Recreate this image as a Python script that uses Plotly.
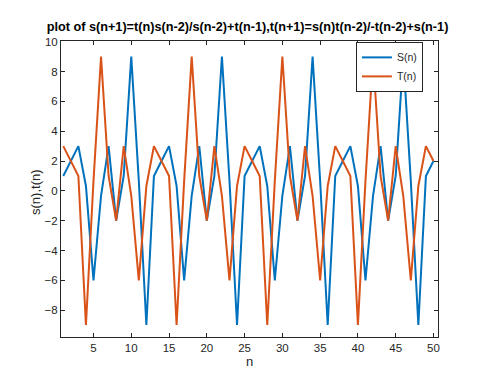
import plotly.graph_objects as go

n = list(range(1, 51))
s_vals = [1, 2, 3, 0.33, -6, -0.33, 3, -2, 1, 9, 0.67, -9,
          1, 2, 3, 0.33, -6, -0.33, 3, -2, 1, 9, 0.67, -9,
          1, 2, 3, 0.33, -6, -0.33, 3, -2, 1, 9, 0.67, -9,
          1, 2, 3, 0.33, -6, -0.33, 3, -2, 1, 9, 0.67, -9,
          1, 2]
t_vals = [3, 2, 1, -9, 0.67, 9, 1, -2, 3, -0.33, -6, 0.33,
          3, 2, 1, -9, 0.67, 9, 1, -2, 3, -0.33, -6, 0.33,
          3, 2, 1, -9, 0.67, 9, 1, -2, 3, -0.33, -6, 0.33,
          3, 2, 1, -9, 0.67, 9, 1, -2, 3, -0.33, -6, 0.33,
          3, 2]
x_ticks = [5, 10, 15, 20, 25, 30, 35, 40, 45, 50]
y_ticks = [-8, -6, -4, -2, 0, 2, 4, 6, 8, 10]

fig = go.Figure()
fig.add_trace(go.Scatter(x=n, y=s_vals, mode='lines', name='S(n)',
                         line=dict(color='#0072BD', width=2)))
fig.add_trace(go.Scatter(x=n, y=t_vals, mode='lines', name='T(n)',
                         line=dict(color='#D95319', width=2)))

axis_style = dict(showgrid=False, zeroline=False, showline=True, linecolor='#262626',
                  linewidth=1, mirror='ticks', ticks='inside', ticklen=4,
                  tickcolor='#262626', tickfont=dict(size=11.5, color='#262626'))

fig.update_layout(
    width=479, height=368,
    margin=dict(l=53, r=49, t=33, b=39),
    paper_bgcolor='white', plot_bgcolor='white',
    font=dict(family='Liberation Sans, Arial, sans-serif', color='#262626'),
    title=dict(text='<b>plot of s(n+1)=t(n)s(n-2)/s(n-2)+t(n-1),t(n+1)=s(n)t(n-2)/-t(n-2)+s(n-1)</b>',
               x=0.5, xref='container', y=1 - 19 / 368, yref='container',
               yanchor='middle', font=dict(size=12.7, color='black')),
    xaxis=dict(range=[0.7, 50.6], tickvals=x_ticks,
               title=dict(text='n', font=dict(size=13), standoff=2), **axis_style),
    yaxis=dict(range=[-9.8, 10.05], tickvals=y_ticks, **axis_style),
    legend=dict(x=0.96, y=0.997, xanchor='right', yanchor='top',
                bgcolor='white', bordercolor='#262626', borderwidth=1,
                font=dict(size=10.5), tracegroupgap=0, itemwidth=30),
    showlegend=True,
)

fig.add_annotation(text='s(n),t(n)', textangle=-90, showarrow=False,
                   xref='paper', yref='paper', x=(28 - 53) / 377, y=0.49,
                   xanchor='center', yanchor='middle', font=dict(size=13, color='#262626'))

fig.write_html("out.html")
